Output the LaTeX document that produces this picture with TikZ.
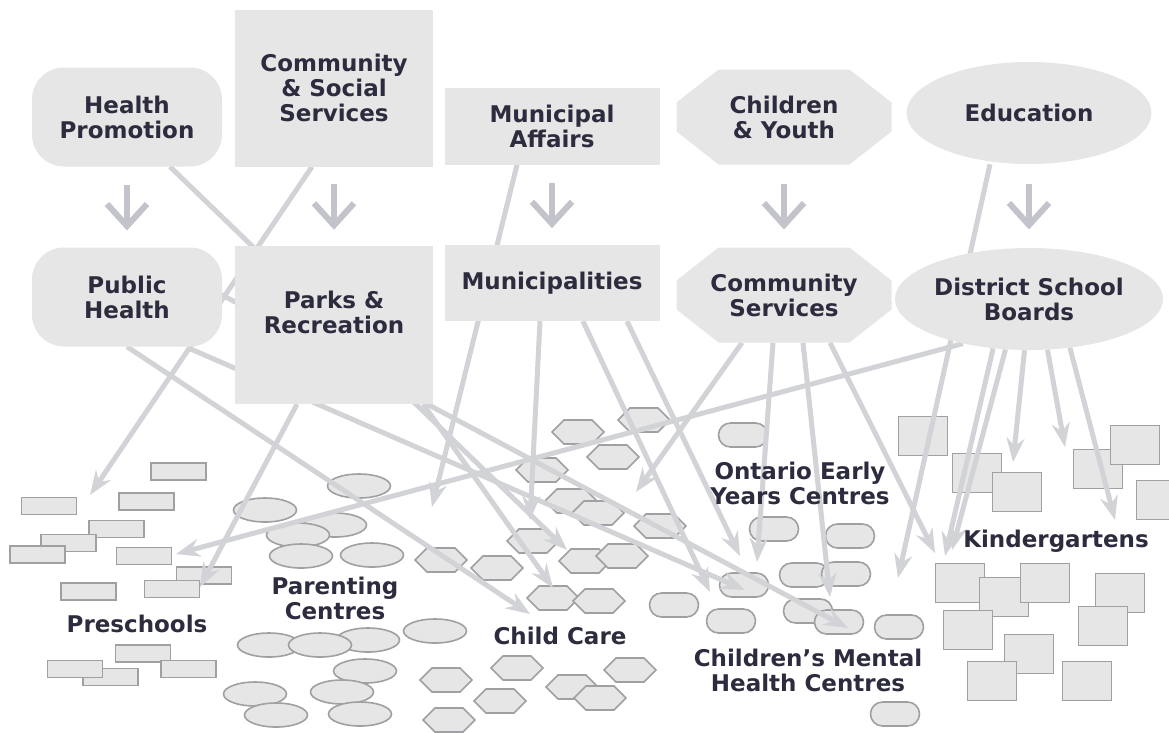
\documentclass[tikz,border=0pt]{standalone}
\usepackage{fontspec}
\setmainfont{DejaVu Sans}
\usetikzlibrary{arrows.meta,shapes.geometric,shapes.misc,shapes.symbols,backgrounds,calc}

\definecolor{boxgrey}{RGB}{230,230,230}
\definecolor{edgegrey}{RGB}{160,160,163}
\definecolor{linkgrey}{RGB}{210,211,215}
\definecolor{glyphgrey}{RGB}{194,195,203}
\definecolor{inkblue}{RGB}{44,44,62}

\tikzset{
  every node/.style={font=\fontsize{23}{25}\selectfont\bfseries, text=inkblue, align=center},
  box/.style={rectangle, fill=boxgrey, inner sep=0pt},
  roundbox/.style={box, rounded corners=32pt, minimum width=190pt, minimum height=99pt},
  oval/.style={ellipse, fill=boxgrey, inner sep=0pt, minimum width=245pt, minimum height=102pt},
  octbox/.style={rectangle, inner sep=0pt, minimum width=215pt, minimum height=95pt,
    path picture={\fill[boxgrey] ([xshift=42pt]path picture bounding box.north west)
      -- ([xshift=-42pt]path picture bounding box.north east)
      -- ([yshift=-33pt]path picture bounding box.north east)
      -- ([yshift=33pt]path picture bounding box.south east)
      -- ([xshift=-42pt]path picture bounding box.south east)
      -- ([xshift=42pt]path picture bounding box.south west)
      -- ([yshift=33pt]path picture bounding box.south west)
      -- ([yshift=-33pt]path picture bounding box.north west) -- cycle;}},
  glyph/.style={line width=6pt, draw=glyphgrey},
  conn/.style={line width=5pt, color=linkgrey, -{Stealth[length=24pt,width=18pt,inset=8pt]}},
  small/.style={fill=boxgrey, draw=edgegrey, line width=1.6pt, inner sep=0pt},
  pre/.style={small, rectangle, minimum width=55pt, minimum height=17pt},
  par/.style={small, ellipse, minimum width=63pt, minimum height=24pt},
  hex/.style={small, signal, signal to=east and west, minimum width=52pt, minimum height=24pt},
  cen/.style={small, rounded rectangle, minimum width=49pt, minimum height=24pt},
  kin/.style={small, rectangle, minimum width=49pt, minimum height=39pt}
}

\begin{document}
\begin{tikzpicture}[x=1pt,y=-1pt]
  \useasboundingbox (0,0) rectangle (1169,732);

  % ministries
  \draw (127,117) node[roundbox] (hp) {Health\\Promotion};
  \draw (334,88) node[box, minimum width=198pt, minimum height=157pt] (css) {Community\\\& Social\\Services};
  \draw (552,126) node[box, minimum width=215pt, minimum height=77pt] (ma) {Municipal\\Affairs};
  \draw (784,117) node[octbox] (cy) {Children\\\& Youth};
  \draw (1029,113) node[oval] (edu) {Education};

  % local bodies
  \draw (127,297) node[roundbox] (ph) {Public\\Health};
  \draw (334,325) node[box, minimum width=198pt, minimum height=158pt] (parks) {Parks \&\\Recreation\\[0pt]};
  \draw (552,283) node[box, minimum width=215pt, minimum height=76pt] (muni) {Municipalities};
  \draw (784,295) node[octbox] (cs) {Community\\Services};
  \draw (1029,299) node[oval] (dsb) {District School\\Boards};

  \foreach \a/\b in {hp/ph,css/parks,ma/muni,cy/cs,edu/dsb}{
    \coordinate (m) at ($(\a.south)!0.5!(\b.north)$);
    \draw[glyph] ($(m)+(0,-22)$) -- ($(m)+(0,18)$);
    \draw[glyph] ($(m)+(-20,-3)$) -- ($(m)+(0,19)$) -- ($(m)+(20,-3)$);
  }

  % service labels
  \draw (137,624) node (preschools) {Preschools};
  \draw (335,598) node (parenting) {Parenting\\Centres};
  \draw (560,636) node (childcare) {Child Care};
  \draw (800,483) node (oeyc) {Ontario Early\\Years Centres};
  \draw (808,670) node (cmhc) {Children’s Mental\\Health Centres};
  \draw (1056,541) node (kinder) {Kindergartens};

  \begin{pgfonlayer}{background}
  % preschools
  \draw (178.5,471.5) node[pre] (pre1) {};
  \draw (49,506) node[pre] (pre2) {};
  \draw (146.5,501.5) node[pre] (pre3) {};
  \draw (116.5,529) node[pre] (pre4) {};
  \draw (68.5,543) node[pre] (pre5) {};
  \draw (37.5,554.5) node[pre] (pre6) {};
  \draw (144,556) node[pre] (pre7) {};
  \draw (204,575.5) node[pre] (pre8) {};
  \draw (88.5,591.5) node[pre] (pre9) {};
  \draw (172,589) node[pre] (pre10) {};
  \draw (143,653.5) node[pre] (pre11) {};
  \draw (110.5,677) node[pre] (pre13) {};
  \draw (75,669) node[pre] (pre12) {};
  \draw (188.5,669) node[pre] (pre14) {};

  % parenting centres
  \draw (359,486) node[par] (par1) {};
  \draw (265,510) node[par] (par2) {};
  \draw (335,525) node[par] (par3) {};
  \draw (298,535) node[par] (par4) {};
  \draw (301,556) node[par] (par5) {};
  \draw (372,555) node[par] (par6) {};
  \draw (435,631) node[par] (par7) {};
  \draw (368,640) node[par] (par8) {};
  \draw (269,645) node[par] (par9) {};
  \draw (320,645) node[par] (par10) {};
  \draw (365,671) node[par] (par11) {};
  \draw (255,694) node[par] (par12) {};
  \draw (342,692) node[par] (par13) {};
  \draw (276,715) node[par] (par14) {};
  \draw (360,714) node[par] (par15) {};

  % child care
  \draw (578,432) node[hex] (cc1) {};
  \draw (644,420) node[hex] (cc2) {};
  \draw (613,457) node[hex] (cc3) {};
  \draw (542,470) node[hex] (cc4) {};
  \draw (571,501) node[hex] (cc5) {};
  \draw (598,513) node[hex] (cc6) {};
  \draw (660,526) node[hex] (cc7) {};
  \draw (533,541) node[hex] (cc8) {};
  \draw (441,560) node[hex] (cc9) {};
  \draw (497,568) node[hex] (cc10) {};
  \draw (585,561) node[hex] (cc11) {};
  \draw (622,556) node[hex] (cc12) {};
  \draw (553,598) node[hex] (cc13) {};
  \draw (599,601) node[hex] (cc14) {};
  \draw (446,680) node[hex] (cc15) {};
  \draw (517,668) node[hex] (cc16) {};
  \draw (572,687) node[hex] (cc17) {};
  \draw (600,698) node[hex] (cc18) {};
  \draw (630,670) node[hex] (cc19) {};
  \draw (500,701) node[hex] (cc20) {};
  \draw (449,720) node[hex] (cc21) {};

  % early years and mental health centres
  \draw (743,435) node[cen] (ce1) {};
  \draw (774,529) node[cen] (ce2) {};
  \draw (850,536) node[cen] (ce3) {};
  \draw (804,575) node[cen] (ce4) {};
  \draw (846,574) node[cen] (ce5) {};
  \draw (744,585) node[cen] (ce6) {};
  \draw (674,605) node[cen] (ce7) {};
  \draw (731,621) node[cen] (ce8) {};
  \draw (808,611) node[cen] (ce9) {};
  \draw (839,622) node[cen] (ce10) {};
  \draw (899,627) node[cen] (ce11) {};
  \draw (895,714) node[cen] (ce12) {};

  % kindergartens
  \draw (923,436) node[kin] (k1) {};
  \draw (977,473) node[kin] (k2) {};
  \draw (1017,492) node[kin] (k3) {};
  \draw (1098,469) node[kin] (k4) {};
  \draw (1135,445) node[kin] (k5) {};
  \draw (1161,500) node[kin] (k6) {};
  \draw (960,583) node[kin] (k7) {};
  \draw (1004,597) node[kin] (k8) {};
  \draw (1045,583) node[kin] (k9) {};
  \draw (1120,593) node[kin] (k10) {};
  \draw (1103,626) node[kin] (k11) {};
  \draw (968,630) node[kin] (k12) {};
  \draw (1029,654) node[kin] (k13) {};
  \draw (992,681) node[kin] (k14) {};
  \draw (1087,681) node[kin] (k15) {};

  % where the arrows land
  \coordinate (tpre1) at (90,495);
  \coordinate (tpre2) at (200,587);
  \coordinate (tpre3) at (176,554);
  \coordinate (tcc1) at (432,507);
  \coordinate (tcc2) at (530,520);
  \coordinate (tcc3) at (567,550);
  \coordinate (tcc4) at (553,588);
  \coordinate (tcc5) at (530,614);
  \coordinate (tcc6) at (636,492);
  \coordinate (tce1) at (710,592);
  \coordinate (tce2) at (740,556);
  \coordinate (tce3) at (757,562);
  \coordinate (tce4) at (830,597);
  \coordinate (tce5) at (898,578);
  \coordinate (tce6) at (848,628);
  \coordinate (tce7) at (745,590);
  \coordinate (tk1) at (945,556);
  \coordinate (tk2) at (952,550);
  \coordinate (tk3) at (1013,462);
  \coordinate (tk4) at (1065,447);
  \coordinate (tk5) at (1115,520);
  \coordinate (tk6) at (935,553);

  \path[conn] ([xshift=43pt]hp.south) edge (tcc3);
  \path[conn] ([xshift=-22pt]css.south) edge (tpre1);
  \path[conn] ([xshift=-35pt]ma.south) edge (tcc1);
  \path[conn] ([xshift=-39pt]edu.south) edge (tce5);
  \path[conn] (ph.south) edge (tcc5);
  \path[conn] ([xshift=80pt,yshift=10pt]ph.center) edge (tce6);
  \path[conn] ([xshift=63pt,yshift=-2pt]ph.south) edge (tce7);
  \path[conn] ([xshift=-37pt]parks.south) edge (tpre2);
  \path[conn] ([xshift=-10pt]parks.south east) edge (tcc4);
  \path[conn] ([xshift=-12pt]muni.south) edge (tcc2);
  \path[conn] ([xshift=31pt]muni.south) edge (tce1);
  \path[conn] ([xshift=75pt]muni.south) edge (tce2);
  \path[conn] ([xshift=-42pt]cs.south) edge (tcc6);
  \path[conn] ([xshift=-11pt]cs.south) edge (tce3);
  \path[conn] ([xshift=19pt]cs.south) edge (tce4);
  \path[conn] ([xshift=46pt]cs.south) edge (tk6);
  \path[conn] (dsb.214) edge (tpre3);
  \path[conn] (dsb.234) edge (tk1);
  \path[conn] (dsb.245) edge (tk2);
  \path[conn] (dsb.265) edge (tk3);
  \path[conn] (dsb.290) edge (tk4);
  \path[conn] (dsb.310) edge (tk5);
  \end{pgfonlayer}
\end{tikzpicture}
\end{document}
